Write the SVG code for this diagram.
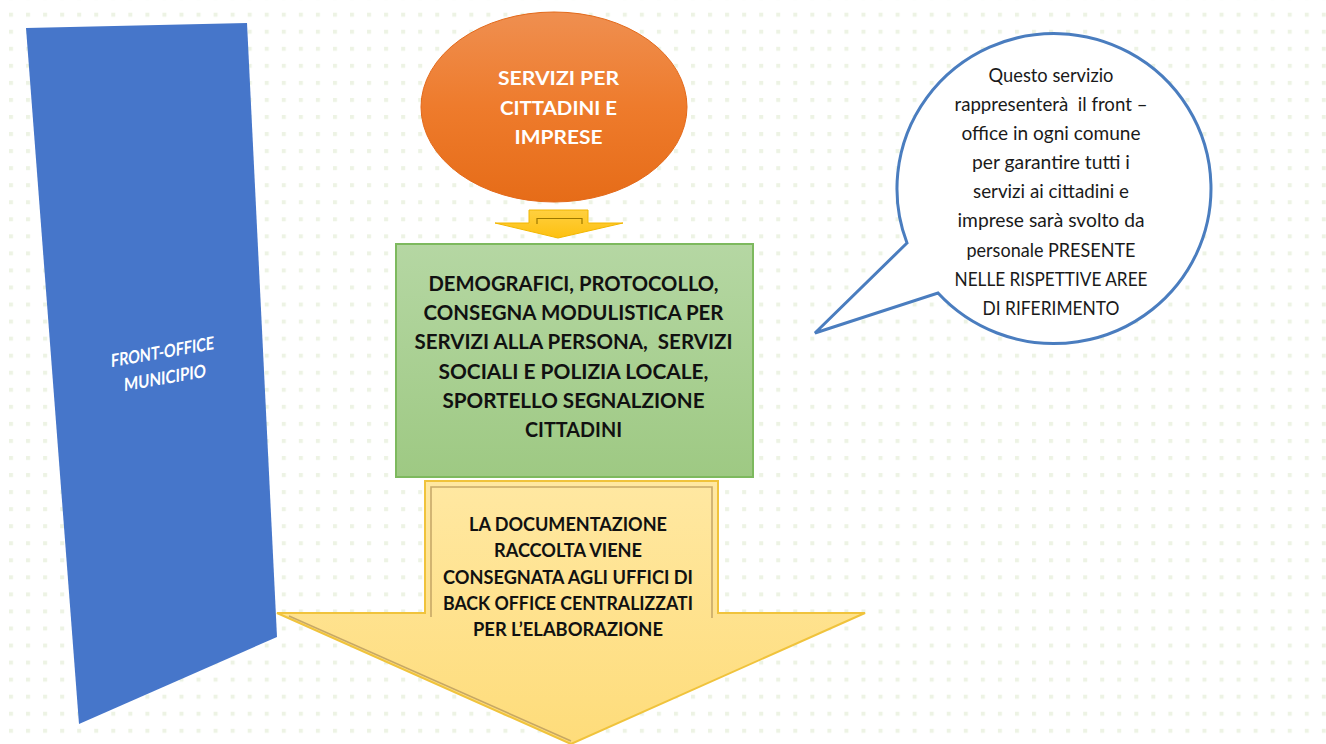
<svg xmlns="http://www.w3.org/2000/svg" width="1326" height="744" viewBox="0 0 1326 744">
<defs>
<pattern id="dots" patternUnits="userSpaceOnUse" x="9" y="12.7" width="17.05" height="17.05">
<rect x="0" y="0" width="4" height="4" fill="#edf3e4"/>
</pattern>
<linearGradient id="gOrange" x1="0" y1="0" x2="0" y2="1">
<stop offset="0" stop-color="#ef8f50"/>
<stop offset="0.5" stop-color="#ee7b2c"/>
<stop offset="1" stop-color="#e66c18"/>
</linearGradient>
<linearGradient id="gSmall" x1="0" y1="0" x2="0" y2="1">
<stop offset="0" stop-color="#ffd040"/>
<stop offset="1" stop-color="#fdc010"/>
</linearGradient>
<linearGradient id="gGreen" x1="0" y1="0" x2="0" y2="1">
<stop offset="0" stop-color="#b5d7a3"/>
<stop offset="1" stop-color="#9ec983"/>
</linearGradient>
<linearGradient id="gYellow" x1="0" y1="0" x2="0" y2="1">
<stop offset="0" stop-color="#ffe8a2"/>
<stop offset="1" stop-color="#fedc7a"/>
</linearGradient>
<style>
.bold{font-family:Lato,"Liberation Sans",sans-serif;font-weight:bold;text-anchor:middle}
.reg{font-family:Lato,"Liberation Sans",sans-serif;font-weight:normal;text-anchor:middle;fill:#1a1a1a;font-size:19px}
.white{fill:#ffffff}
.black{fill:#111111}
.pre{white-space:pre}
</style>
</defs>
<rect x="0" y="0" width="1326" height="744" fill="#ffffff"/>
<rect x="0" y="0" width="1326" height="744" fill="url(#dots)"/>

<g id="front-office">
<polygon points="26,28 247,23 277,637 79,724" fill="#4676ca"/>
<g transform="translate(162.5,351.7) skewY(-10)">
<text class="bold white" x="0" y="6.5" font-size="18" textLength="103" lengthAdjust="spacingAndGlyphs">FRONT-OFFICE</text>
</g>
<g transform="translate(165,377.5) skewY(-10)">
<text class="bold white" x="0" y="6.5" font-size="18" textLength="82" lengthAdjust="spacingAndGlyphs">MUNICIPIO</text>
</g>
</g>

<g id="servizi">
<ellipse cx="554" cy="107" rx="133" ry="95" fill="url(#gOrange)" stroke="#e3691a" stroke-width="1"/>
<text class="bold white" x="558.5" y="85" font-size="18.5" textLength="121" lengthAdjust="spacingAndGlyphs">SERVIZI PER</text>
<text class="bold white" x="558.5" y="115" font-size="18.5" textLength="117" lengthAdjust="spacingAndGlyphs">CITTADINI E</text>
<text class="bold white" x="558.5" y="144" font-size="18.5" textLength="88" lengthAdjust="spacingAndGlyphs">IMPRESE</text>
</g>

<g id="connectors">
<g id="arrow-small">
<polygon points="529,210 588,210 588,223 623,223 558,238 495,223 529,223" fill="url(#gSmall)" stroke="#f2b600" stroke-width="1"/>
<path d="M537,224 V218.5 H582 V224" fill="none" stroke="#9c7800" stroke-width="1.2"/>
</g>
</g>

<g id="front-office-services">
<rect x="396" y="244" width="357" height="233" fill="url(#gGreen)" stroke="#7db95e" stroke-width="2"/>
<text class="bold black" x="573.5" y="291" font-size="21" textLength="290" lengthAdjust="spacingAndGlyphs">DEMOGRAFICI, PROTOCOLLO,</text>
<text class="bold black" x="573.5" y="320" font-size="21" textLength="300" lengthAdjust="spacingAndGlyphs">CONSEGNA MODULISTICA PER</text>
<text class="bold black pre" xml:space="preserve" x="573.5" y="349" font-size="21" textLength="318" lengthAdjust="spacingAndGlyphs">SERVIZI ALLA PERSONA,  SERVIZI</text>
<text class="bold black" x="573.5" y="379" font-size="21" textLength="270" lengthAdjust="spacingAndGlyphs">SOCIALI E POLIZIA LOCALE,</text>
<text class="bold black" x="573.5" y="408" font-size="21" textLength="262" lengthAdjust="spacingAndGlyphs">SPORTELLO SEGNALZIONE</text>
<text class="bold black" x="573.5" y="437" font-size="21" textLength="97" lengthAdjust="spacingAndGlyphs">CITTADINI</text>
</g>

<g id="back-office-arrow">
<polygon points="425,481 718,481 718,613 865,613 571,744 277,613 425,613" fill="url(#gYellow)" stroke="#f0c33c" stroke-width="2"/>
<path d="M431,617 V487 H712 V618 M289,616 L571,741" fill="none" stroke="#b99a5c" stroke-width="1.6" stroke-opacity="0.8"/>
<text class="bold black" x="568" y="531" font-size="19.5" textLength="198" lengthAdjust="spacingAndGlyphs">LA DOCUMENTAZIONE</text>
<text class="bold black" x="568" y="557" font-size="19.5" textLength="148" lengthAdjust="spacingAndGlyphs">RACCOLTA VIENE</text>
<text class="bold black" x="568" y="584" font-size="19.5" textLength="250" lengthAdjust="spacingAndGlyphs">CONSEGNATA AGLI UFFICI DI</text>
<text class="bold black" x="568" y="610" font-size="19.5" textLength="250" lengthAdjust="spacingAndGlyphs">BACK OFFICE CENTRALIZZATI</text>
<text class="bold black" x="568" y="636" font-size="19.5" textLength="190" lengthAdjust="spacingAndGlyphs">PER L’ELABORAZIONE</text>
</g>

<g id="callout">
<path d="M907,243 L815,333 L938,293 A157,155 0 1 0 907,243 Z" fill="#ffffff" stroke="#4a7dbf" stroke-width="3" stroke-linejoin="miter"/>
<text class="reg" x="1051" y="82" textLength="125" lengthAdjust="spacingAndGlyphs">Questo servizio</text>
<text class="reg pre" xml:space="preserve" x="1051" y="111" textLength="193" lengthAdjust="spacingAndGlyphs">rappresenterà  il front –</text>
<text class="reg" x="1051" y="140" textLength="179" lengthAdjust="spacingAndGlyphs">office in ogni comune</text>
<text class="reg" x="1051" y="169" textLength="158" lengthAdjust="spacingAndGlyphs">per garantire tutti i</text>
<text class="reg" x="1051" y="198" textLength="156" lengthAdjust="spacingAndGlyphs">servizi ai cittadini e</text>
<text class="reg" x="1051" y="227" textLength="187" lengthAdjust="spacingAndGlyphs">imprese sarà svolto da</text>
<text class="reg" x="1051" y="257" textLength="169" lengthAdjust="spacingAndGlyphs">personale PRESENTE</text>
<text class="reg" x="1051" y="286" textLength="193" lengthAdjust="spacingAndGlyphs">NELLE RISPETTIVE AREE</text>
<text class="reg" x="1051" y="315" textLength="137" lengthAdjust="spacingAndGlyphs">DI RIFERIMENTO</text>
</g>
</svg>
